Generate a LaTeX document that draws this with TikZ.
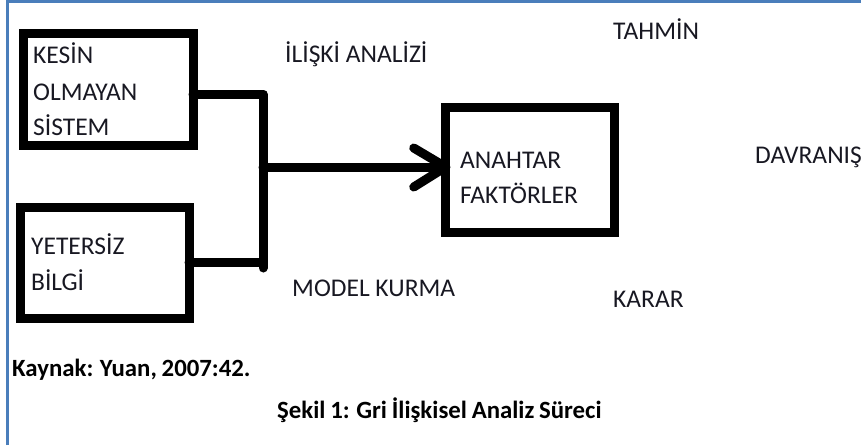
\documentclass[tikz,border=0pt]{standalone}
\usepackage{fontspec}
\setmainfont{Carlito}
\newfontfamily\capfont[WordSpace=0.85]{Carlito}
\definecolor{frameblue}{RGB}{74,126,187}
\definecolor{ink}{RGB}{24,24,34}
\begin{document}
\begin{tikzpicture}[x=1pt,y=-1pt,
  thickbox/.style={draw=black,line width=9pt,minimum width=#1,inner sep=0pt,outer sep=0pt},
  heavy/.style={line width=9pt,line cap=round,line join=round},
  lbl/.style={anchor=base west,inner sep=0pt,text=ink,font=\fontsize{25.5}{30}\selectfont},
  captext/.style={anchor=base west,inner sep=0pt,text=black,font=\capfont\fontsize{24.8}{29}\selectfont\bfseries}]
\useasboundingbox (0,0) rectangle (861,445);
% page frame
\draw[frameblue,line width=2.8pt] (7.5,445) -- (7.5,1.4) -- (861,1.4);

% boxes
\node[thickbox=170pt,minimum height=112pt] (k1) at (108,89) {};
\node[thickbox=169pt,minimum height=111pt] (k2) at (104.5,262.5) {};
\node[thickbox=168.5pt,minimum height=125pt] (k3) at (530,169.5) {};

% box texts
\node[lbl] (t1a) at (33,63) {KESİN};
\node[lbl] (t1b) at (33,100) {OLMAYAN};
\node[lbl] (t1c) at (33,135) {SİSTEM};
\node[lbl] (t2a) at (31,254) {YETERSİZ};
\node[lbl] (t2b) at (31,290) {BİLGİ};
\node[lbl] (t3a) at (460,168) {ANAHTAR};
\node[lbl] (t3b) at (460,203) {FAKTÖRLER};

% free labels
\node[lbl] (l1) at (285,62) {İLİŞKİ ANALİZİ};
\node[lbl] (l2) at (613,39) {TAHMİN};
\node[lbl] (l3) at (755,163) {DAVRANIŞ};
\node[lbl] (l4) at (292,296) {MODEL KURMA};
\node[lbl] (l5) at (613,307) {KARAR};

% captions
\node[captext] (c1) at (12,376) {Kaynak: Yuan, 2007:42.};
\node[captext] (c2) at (277,418) {Şekil 1: Gri İlişkisel Analiz Süreci};

% connectors
\coordinate (jtop) at (263,94);
\coordinate (jbot) at (263,268);
\coordinate (jmid) at (263,167);
\draw[heavy] ([yshift=-5pt]k1.east) -- (jtop) -- (jbot);
\draw[heavy] (k2.east) -- (k2.east -| jtop);
\draw[heavy] (jmid) -- (jmid -| k3.west);
\draw[heavy] ([shift={(-32,-19)}]jmid -| k3.west) -- (jmid -| k3.west) -- ([shift={(-32,20)}]jmid -| k3.west);
\end{tikzpicture}
\end{document}
